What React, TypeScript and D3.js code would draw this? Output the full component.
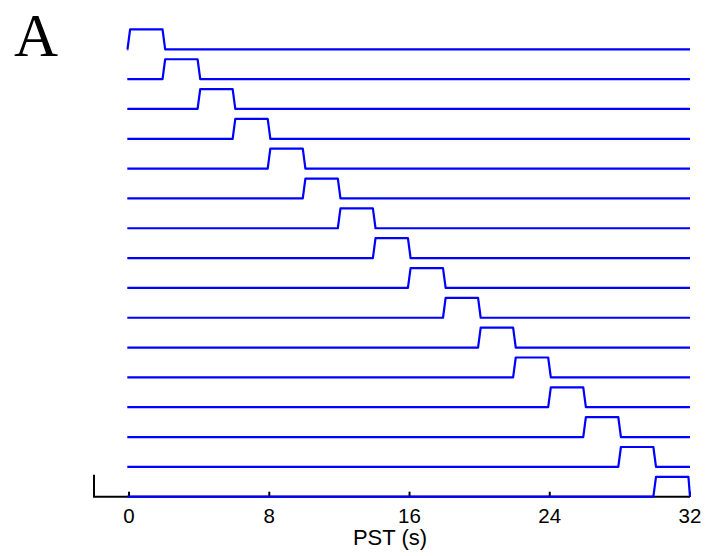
import React from "react";
import * as d3 from "d3";

// Event onsets (s) for each row of the design, top to bottom
const onsets = [0, 2, 4, 6, 8, 10, 12, 14, 16, 18, 20, 22, 24, 26, 28, 30];
const duration = 2; // boxcar width (s)
const xTicks = [0, 8, 16, 24, 32];
const xDomain: [number, number] = [-2, 32];
const rowStep = 1.5; // vertical offset between rows, in amplitude units
const panelLabel = "A";
const xLabel = "PST (s)";

const W = 709;
const H = 556;

export default function App() {
  const x = d3.scaleLinear().domain(xDomain).range([94, 690]);
  const nRows = onsets.length;
  const y = d3
    .scaleLinear()
    .domain([0, (nRows - 1) * rowStep])
    .range([496.7, 49.3]);

  const line = d3
    .line<[number, number]>()
    .x((d) => x(d[0]))
    .y((d) => y(d[1]));

  const tEnd = xDomain[1];
  const rows = onsets.map((s, i) => {
    const base = (nRows - 1 - i) * rowStep;
    const e = s + duration;
    const pts: [number, number][] = [];
    const t0 = -0.1;
    if (s - 0.09 > t0) pts.push([t0, base]);
    pts.push([Math.max(s - 0.09, -0.15), base]);
    pts.push([s + 0.06, base + 1]);
    pts.push([e - 0.09, base + 1]);
    if (e + 0.06 <= tEnd) {
      pts.push([e + 0.06, base]);
      pts.push([tEnd, base]);
    } else {
      pts.push([tEnd, base]);
    }
    return pts;
  });

  const axisY = y(0);

  return (
    <svg width={W} height={H} style={{ display: "block", position: "absolute", left: 0, top: 0 }}>
      <rect width={W} height={H} fill="#fff" />
      <text x={14} y={56} fontFamily="'Liberation Serif', 'Times New Roman', serif" fontSize={61}>
        {panelLabel}
      </text>
      {/* axis */}
      <path
        d={`M${x(xDomain[0])},${axisY - 22}V${axisY}H${x(xDomain[1])}`}
        fill="none"
        stroke="#000"
        strokeWidth={2}
      />
      {xTicks.map((t) => (
        <g key={t}>
          <line x1={x(t)} x2={x(t)} y1={axisY} y2={axisY - 5} stroke="#000" strokeWidth={2} />
          <text
            x={x(t)}
            y={522.7}
            textAnchor="middle"
            fontFamily="'Liberation Sans', Arial, sans-serif"
            fontSize={20.5}
          >
            {t}
          </text>
        </g>
      ))}
      <text
        x={390}
        y={545}
        textAnchor="middle"
        fontFamily="'Liberation Sans', Arial, sans-serif"
        fontSize={22}
      >
        {xLabel}
      </text>
      {rows.map((pts, i) => (
        <path key={i} d={line(pts) || ""} fill="none" stroke="#0000ff" strokeWidth={2.2} strokeLinejoin="round" />
      ))}
    </svg>
  );
}
